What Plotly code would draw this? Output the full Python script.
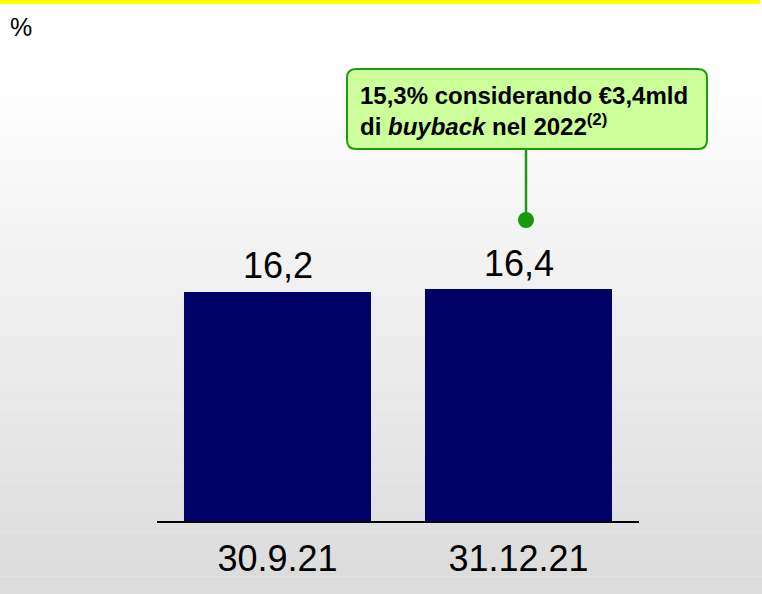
"""CET1 ratio bars"""
import plotly.graph_objects as go

W, H = 762, 594

categories = ['30.9.21', '31.12.21']
values = [16.2, 16.4]
value_labels = ['16,2', '16,4']
unit_label = '%'
callout_text = '<b>15,3% considerando €3,4mld<br>di <i>buyback</i> nel 2022<sup>(2)</sup></b>'

NAVY = '#000066'
FONT = 'Arial, Liberation Sans, sans-serif'


def px(x):
    return x / W


def py(y):
    return 1 - y / H


fig = go.Figure()

fig.add_trace(
    go.Bar(
        x=categories,
        y=values,
        marker=dict(color=NAVY, line=dict(width=0)),
        hoverinfo='skip',
    )
)

# gradient background (white -> light grey)
shapes = []
top, bottom = 70, H
n = 60
for i in range(n):
    y0 = top + (bottom - top) * i / n
    y1 = top + (bottom - top) * (i + 1) / n
    t = (i + 0.5) / n
    g = round(255 - 36 * t)
    shapes.append(dict(
        type='rect', xref='paper', yref='paper', layer='below',
        x0=0, x1=1, y0=py(y1), y1=py(y0) + 0.0005,
        fillcolor=f'rgb({g},{g},{g})', line=dict(width=0),
    ))

# yellow top line
shapes.append(dict(
    type='rect', xref='paper', yref='paper', layer='above',
    x0=0, x1=px(760), y0=py(4), y1=1,
    fillcolor='#ffff00', line=dict(width=0),
))

# callout box with rounded corners
bx0, bx1, by0, by1, r = 347, 707, 69, 149, 9
path = (
    f'M {px(bx0 + r)} {py(by0)} L {px(bx1 - r)} {py(by0)} '
    f'Q {px(bx1)} {py(by0)} {px(bx1)} {py(by0 + r)} '
    f'L {px(bx1)} {py(by1 - r)} '
    f'Q {px(bx1)} {py(by1)} {px(bx1 - r)} {py(by1)} '
    f'L {px(bx0 + r)} {py(by1)} '
    f'Q {px(bx0)} {py(by1)} {px(bx0)} {py(by1 - r)} '
    f'L {px(bx0)} {py(by0 + r)} '
    f'Q {px(bx0)} {py(by0)} {px(bx0 + r)} {py(by0)} Z'
)
shapes.append(dict(
    type='path', xref='paper', yref='paper', path=path,
    fillcolor='#ccff99', line=dict(color='#1f9a12', width=2),
))
# connector + dot
shapes.append(dict(
    type='line', xref='paper', yref='paper',
    x0=px(526), x1=px(526), y0=py(150), y1=py(218),
    line=dict(color='#1f9a12', width=2.5),
))
shapes.append(dict(
    type='circle', xref='paper', yref='paper',
    x0=px(518), x1=px(534), y0=py(228), y1=py(212),
    fillcolor='#159a0c', line=dict(width=0),
))

annotations = []
for cat, v, lab in zip(categories, values, value_labels):
    annotations.append(dict(
        x=cat, y=v, xref='x', yref='y', text=lab, showarrow=False,
        yanchor='middle', yshift=26,
        font=dict(size=36, color='#000000', family=FONT),
    ))

annotations.append(dict(
    x=px(20.5), y=py(27.5), xref='paper', yref='paper', text=unit_label,
    showarrow=False, xanchor='center', yanchor='middle',
    font=dict(size=25, color='#000000', family=FONT),
))
annotations.append(dict(
    x=px(358), y=py(111), xref='paper', yref='paper', text=callout_text,
    showarrow=False, xanchor='left', yanchor='middle', align='left',
    font=dict(size=24, color='#000000', family=FONT),
))

fig.update_layout(
    width=W, height=H,
    margin=dict(l=0, r=0, t=0, b=0),
    paper_bgcolor='#ffffff',
    plot_bgcolor='rgba(0,0,0,0)',
    showlegend=False,
    bargap=0.224,
    shapes=shapes,
    annotations=annotations,
    font=dict(family=FONT, color='#000000'),
)

fig.update_xaxes(
    domain=[px(157), px(639)],
    range=[-0.5, 1.5],
    showline=True, linecolor='#000000', linewidth=2,
    showgrid=False, zeroline=False, ticks='',
    tickfont=dict(size=36, color='#000000', family=FONT),
    ticklabelstandoff=5,
    fixedrange=True,
)
fig.update_yaxes(
    domain=[py(521), py(60)],
    range=[0, 461 / 14.14],
    showline=False, showgrid=False, zeroline=False,
    showticklabels=False, ticks='',
    fixedrange=True,
)

fig.write_html(
    'out.html',
    config=dict(displayModeBar=False),
    post_script="document.body.style.margin='0';",
)
